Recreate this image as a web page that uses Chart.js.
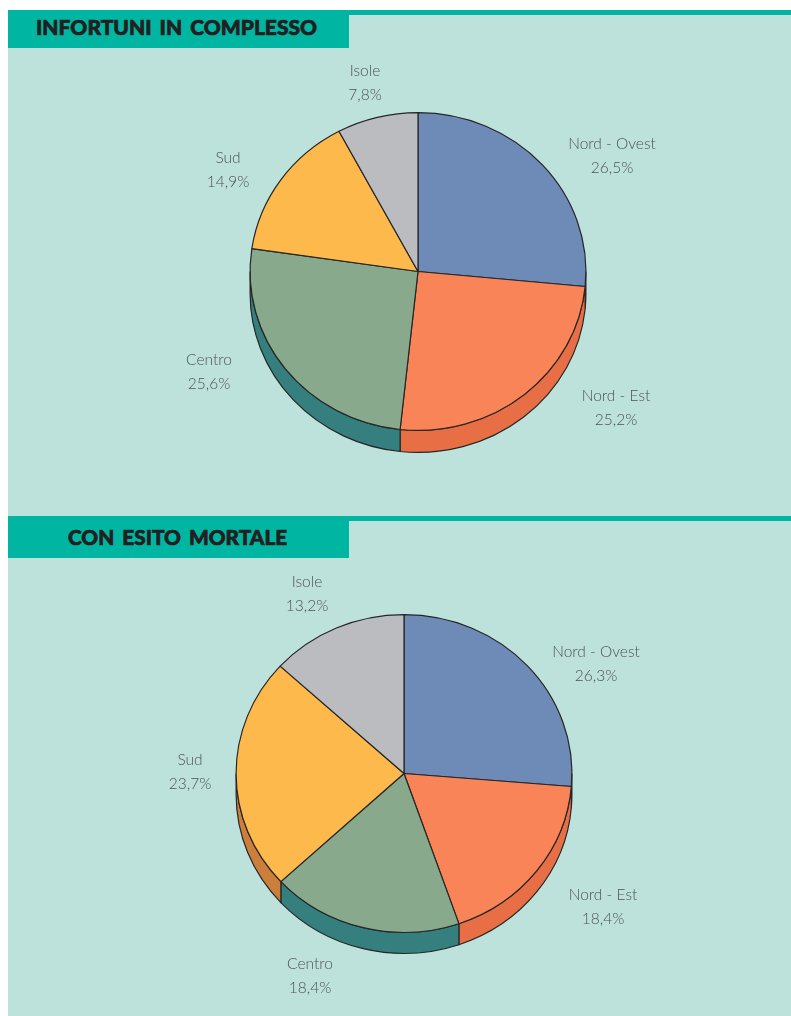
<!DOCTYPE html>
<html lang="it">
<head>
<meta charset="utf-8">
<title>Infortuni per ripartizione</title>
<script src="https://cdn.jsdelivr.net/npm/chart.js@4"></script>
<style>
  html, body { margin: 0; padding: 0; background: #fff; }
  body { position: relative; width: 791px; height: 1016px; overflow: hidden; }
  .panel { position: absolute; left: 8px; width: 783px; background: #bde2db; border-top: 5px solid #00b6a3; box-sizing: border-box; }
  .tab { position: absolute; left: 0; top: -5px; width: 341px; background: #00b6a3; color: #231f20;
         font-family: Lato, sans-serif; font-weight: 900; white-space: nowrap; -webkit-text-stroke: 0.7px #231f20; word-spacing: 3px; }
  canvas { position: absolute; left: 0; top: 0; }
</style>
</head>
<body>
<div class="panel" style="top:10px;height:506px">
  <div class="tab" style="height:38px;line-height:34px;font-size:21px;padding-left:28px;box-sizing:border-box">INFORTUNI IN COMPLESSO</div>
  <canvas id="chartTotal"></canvas>
</div>
<div class="panel" style="top:516px;height:500px">
  <div class="tab" style="height:42px;line-height:41px;font-size:20.8px;padding-left:60px;box-sizing:border-box">CON ESITO MORTALE</div>
  <canvas id="chartFatal"></canvas>
</div>
<script>
const areas = ['Nord - Ovest', 'Nord - Est', 'Centro', 'Sud', 'Isole'];
const totalValues = [26.5, 25.2, 25.6, 14.9, 7.8];
const fatalValues = [26.3, 18.4, 18.4, 23.7, 13.2];

const TOP_COLORS = ['#6e8bb8', '#f88458', '#88a98c', '#fdb94c', '#bbbcc0'];
const SIDE_COLORS = ['#51709c', '#e86e45', '#35807f', '#cc7f3a', '#8f9094'];
const LINE = '#262626';
const Y_SQUASH = 159 / 168;

// label anchors in panel coordinates, same order as areas
const TOTAL_LABELS = [[604, 129], [608, 381], [201, 345], [220, 143], [357, 56]];
const FATAL_LABELS = [[588, 131], [595, 374], [302, 443], [182, 239], [299, 61]];

const pie3d = {
  id: 'pie3d',
  beforeDatasetsDraw(chart, args, opts) {
    const { ctx } = chart;
    const arcs = chart.getDatasetMeta(0).data;
    const { x, y, outerRadius: r } = arcs[0];
    ctx.save();
    ctx.translate(x, y); ctx.scale(1, Y_SQUASH); ctx.translate(-x, -y);
    const d = opts.depth / Y_SQUASH;
    arcs.forEach((arc, i) => {
      // only the front half of the rim shows
      const a0 = Math.max(arc.startAngle, 0), a1 = Math.min(arc.endAngle, Math.PI);
      if (a1 <= a0) return;
      ctx.beginPath();
      ctx.arc(x, y, r, a0, a1);
      ctx.arc(x, y + d, r, a1, a0, true);
      ctx.closePath();
      ctx.fillStyle = SIDE_COLORS[i];
      ctx.fill();
      ctx.lineWidth = 1.2;
      ctx.strokeStyle = LINE;
      ctx.stroke();
    });
  },
  afterDatasetsDraw(chart, args, opts) {
    const { ctx } = chart;
    ctx.restore();
    ctx.save();
    ctx.textAlign = 'center';
    ctx.textBaseline = 'middle';
    ctx.font = '300 15.5px Lato, sans-serif';
    ctx.fillStyle = '#4f5354';
    chart.data.labels.forEach((name, i) => {
      const [lx, ly] = opts.labels[i];
      const val = chart.data.datasets[0].data[i].toFixed(1).replace('.', ',') + '%';
      ctx.fillText(name, lx, ly);
      ctx.fillText(val, lx, ly + 24);
    });
    ctx.restore();
  }
};

function renderPie(canvasId, values, padding, height, depth, labels) {
  const el = document.getElementById(canvasId);
  el.width = 783; el.height = height;
  return new Chart(el, {
    type: 'pie',
    data: {
      labels: areas,
      datasets: [{ data: values, backgroundColor: TOP_COLORS, borderColor: LINE, borderWidth: 1.2 }]
    },
    options: {
      responsive: false, animation: false, events: [],
      layout: { padding },
      plugins: { legend: { display: false }, tooltip: { enabled: false }, pie3d: { depth, labels } }
    },
    plugins: [pie3d]
  });
}

renderPie('chartTotal', totalValues, { left: 241.5, right: 204.5, top: 88, bottom: 76 }, 501, 22, TOTAL_LABELS);
renderPie('chartFatal', fatalValues, { left: 227.5, right: 218.5, top: 84, bottom: 74 }, 495, 21, FATAL_LABELS);
</script>
</body>
</html>
